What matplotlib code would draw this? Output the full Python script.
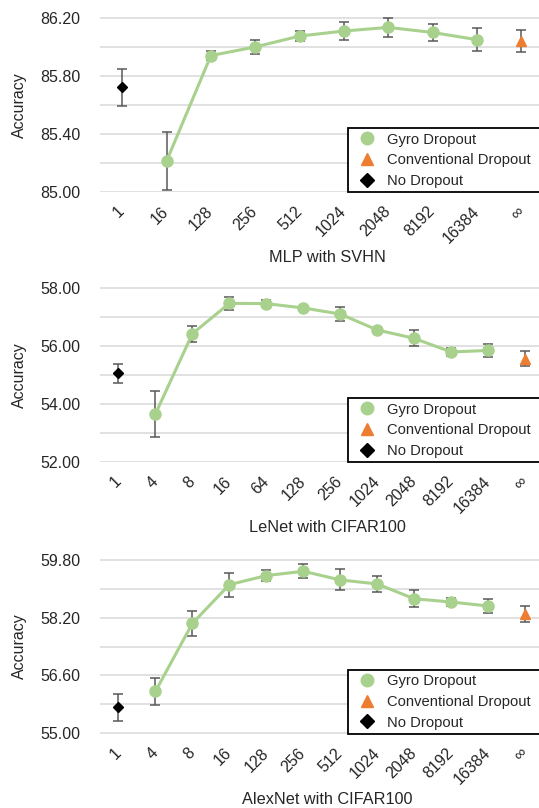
import numpy as np
import matplotlib
matplotlib.use('Agg')
import matplotlib.pyplot as plt
from matplotlib.lines import Line2D

plt.rcParams['font.family'] = ['Liberation Sans', 'DejaVu Sans']

GREEN = '#A9D18E'
ORANGE = '#ED7D31'
ERR = '#595959'
GRID = '#D9D9D9'
TEXT = '#262626'

# MLP with SVHN
mlp_labels = ['1', '16', '128', '256', '512', '1024', '2048', '8192', '16384', '∞']
mlp_gyro = [85.21, 85.94, 86.00, 86.075, 86.11, 86.135, 86.10, 86.05]
mlp_gyro_err = [0.20, 0.03, 0.047, 0.035, 0.064, 0.065, 0.06, 0.078]
mlp_none, mlp_none_err = 85.72, 0.125
mlp_conv, mlp_conv_err = 86.04, 0.074

# LeNet with CIFAR100
lenet_labels = ['1', '4', '8', '16', '64', '128', '256', '1024', '2048', '8192', '16384', '∞']
lenet_gyro = [53.65, 56.42, 57.47, 57.46, 57.31, 57.10, 56.55, 56.26, 55.79, 55.84]
lenet_gyro_err = [0.79, 0.27, 0.23, 0.11, 0.08, 0.23, 0.05, 0.28, 0.13, 0.21]
lenet_none, lenet_none_err = 55.05, 0.32
lenet_conv, lenet_conv_err = 55.56, 0.27

# AlexNet with CIFAR100
alex_labels = ['1', '4', '8', '16', '128', '256', '512', '1024', '2048', '8192', '16384', '∞']
alex_gyro = [56.16, 58.04, 59.11, 59.36, 59.48, 59.24, 59.13, 58.72, 58.63, 58.52]
alex_gyro_err = [0.38, 0.34, 0.33, 0.15, 0.19, 0.29, 0.22, 0.24, 0.11, 0.20]
alex_none, alex_none_err = 55.72, 0.37
alex_conv, alex_conv_err = 58.30, 0.21

W, H = 539, 808
fig = plt.figure(figsize=(W / 100, H / 100), dpi=100)

AX_LEFT, AX_W, AX_H = 100, 443.5, 175


def panel(top, labels, gyro, gyro_err, none, none_err, conv, conv_err,
          ymin, ymax, step, xlabel):
    ax = fig.add_axes([AX_LEFT / W, 1 - (top + AX_H) / H, AX_W / W, AX_H / H])
    n = len(labels)
    x = np.arange(n)
    gx = x[1:-1]

    err_kw = dict(fmt='none', ecolor=ERR, elinewidth=1.1, capsize=3.6,
                  capthick=1.1, zorder=2)
    ax.errorbar(gx, gyro, yerr=gyro_err, **err_kw)
    ax.errorbar([x[0]], [none], yerr=[none_err], **err_kw)
    ax.errorbar([x[-1]], [conv], yerr=[conv_err], **err_kw)

    ax.plot(gx, gyro, '-o', color=GREEN, lw=2.2, ms=8, zorder=3)
    ax.plot([x[0]], [none], 'D', color='black', ms=5.5, zorder=3)
    ax.plot([x[-1]], [conv], '^', color=ORANGE, ms=7.5, zorder=3)

    # gridline every step, label every other one
    pad = (ymax - ymin) * 0.004
    ax.set_xlim(-0.5, n - 0.5)
    ax.set_ylim(ymin - pad, ymax + pad)
    yt = np.linspace(ymin, ymax, int(round((ymax - ymin) / step)) + 1)
    ax.set_yticks(yt)
    ax.set_yticklabels(['%.2f' % v if i % 2 == 0 else '' for i, v in enumerate(yt)])
    ax.grid(True, axis='y', color=GRID, lw=1.1)
    ax.set_axisbelow(True)
    for s in ax.spines.values():
        s.set_visible(False)

    ax.set_xticks(x)
    ax.set_xticklabels(labels, rotation=45, ha='right', va='center',
                       rotation_mode='anchor')
    ax.tick_params(axis='x', length=0, pad=12, labelsize=11.5, labelcolor=TEXT)
    ax.tick_params(axis='y', length=0, pad=14, labelsize=11.5, labelcolor=TEXT)

    ax.text((327.5 - AX_LEFT) / AX_W, -65.5 / AX_H, xlabel, transform=ax.transAxes,
            ha='center', va='center', fontsize=11.7, color=TEXT)
    fig.text(19 / W, 1 - (top + AX_H / 2) / H, 'Accuracy', rotation=90,
             ha='center', va='center', fontsize=11.5, color=TEXT)

    handles = [
        Line2D([], [], ls='none', marker='o', color=GREEN, ms=9),
        Line2D([], [], ls='none', marker='^', color=ORANGE, ms=9),
        Line2D([], [], ls='none', marker='D', color='black', ms=7),
    ]
    bottom = 1 - (top + AX_H) / H
    leg = fig.legend(handles, ['Gyro Dropout', 'Conventional Dropout', 'No Dropout'],
                     loc='lower left', bbox_to_anchor=(348 / W, bottom, 210 / W, 63 / H),
                     mode='expand', borderaxespad=0, fontsize=10.6,
                     fancybox=False, framealpha=1, edgecolor='black',
                     borderpad=0.3, labelspacing=0.45, handlelength=2.0,
                     handletextpad=0.36, labelcolor=TEXT)
    leg.get_frame().set_linewidth(1.3)
    return ax


panel(17.3, mlp_labels, mlp_gyro, mlp_gyro_err, mlp_none, mlp_none_err,
      mlp_conv, mlp_conv_err, 85.0, 86.2, 0.2, 'MLP with SVHN')
panel(287.3, lenet_labels, lenet_gyro, lenet_gyro_err, lenet_none, lenet_none_err,
      lenet_conv, lenet_conv_err, 52.0, 58.0, 1.0, 'LeNet with CIFAR100')
panel(559.0, alex_labels, alex_gyro, alex_gyro_err, alex_none, alex_none_err,
      alex_conv, alex_conv_err, 55.0, 59.8, 0.8, 'AlexNet with CIFAR100')

fig.savefig('out.png', dpi=100)
